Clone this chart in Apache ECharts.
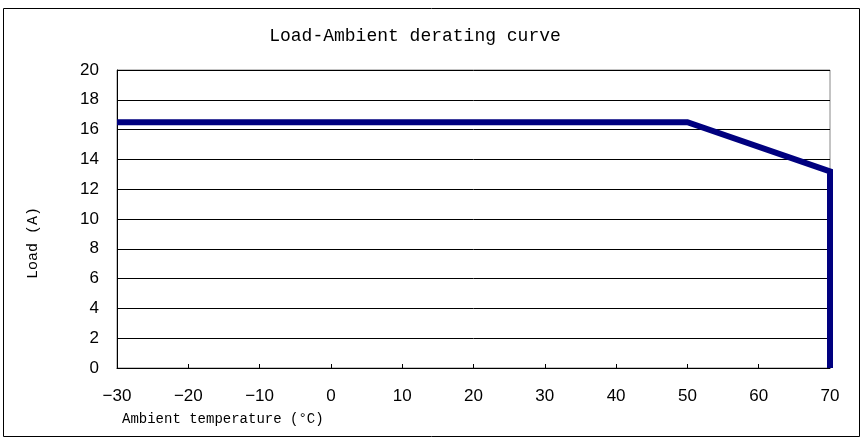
<!DOCTYPE html>
<html><head><meta charset="utf-8">
<script src="https://cdn.jsdelivr.net/npm/echarts@6/dist/echarts.min.js"></script>
<style>html,body{margin:0;padding:0;background:#fff}#c{width:863px;height:439px}</style>
</head><body><div id="c"></div>
<script>
var temperature = [-30, 50, 70, 70];
var load = [16.5, 16.5, 13.2, 0];
var titleText = 'Load-Ambient derating curve';
var xName = 'Ambient temperature (\u00b0C)';
var yName = 'Load (A)';

var chart = echarts.init(document.getElementById('c'));
chart.setOption({
  animation: false,
  backgroundColor: '#fff',
  title: {
    text: titleText, left: 410, top: 22, textAlign: 'center',
    textStyle: {fontFamily: 'Liberation Mono', fontSize: 18, fontWeight: 'normal', color: '#000'}
  },
  graphic: [{
    type: 'rect', shape: {x: 3.5, y: 8.5, width: 856, height: 428},
    style: {fill: 'none', stroke: '#000', lineWidth: 1}, z: -1
  }, {
    type: 'text', x: 33, y: 243, rotation: Math.PI / 2,
    style: {text: yName, fontFamily: 'Liberation Mono', fontSize: 15, fill: '#000', align: 'center', verticalAlign: 'middle'}
  }],
  grid: {left: 117, right: 33, top: 70, bottom: 71, show: true, borderColor: '#888', borderWidth: 1},
  xAxis: {
    type: 'value', min: -30, max: 70, interval: 10,
    name: xName, nameLocation: 'start', nameGap: 0,
    nameTextStyle: {fontFamily: 'Liberation Mono', fontSize: 14, color: '#000', align: 'left', verticalAlign: 'top', padding: [44, 0, 0, 5]},
    axisLine: {onZero: false, lineStyle: {color: '#000', width: 1}},
    axisTick: {inside: true, length: 4, lineStyle: {color: '#000'}},
    splitLine: {show: false},
    axisLabel: {fontFamily: 'Liberation Sans', fontSize: 17, color: '#000', margin: 20,
      formatter: function (v) { return String(v).replace('-', '\u2212'); }}
  },
  yAxis: {
    type: 'value', min: 0, max: 20, interval: 2,
    axisLine: {show: true, onZero: false, lineStyle: {color: '#000', width: 1}},
    axisTick: {show: false},
    splitLine: {lineStyle: {color: '#000', width: 1}},
    axisLabel: {fontFamily: 'Liberation Sans', fontSize: 17, color: '#000', margin: 18}
  },
  series: [{
    type: 'line',
    data: temperature.map(function (t, i) { return [t, load[i]]; }),
    showSymbol: false, symbol: 'none',
    lineStyle: {color: '#00007f', width: 6, join: 'miter'},
    clip: false, z: 5
  }]
});
</script></body></html>
